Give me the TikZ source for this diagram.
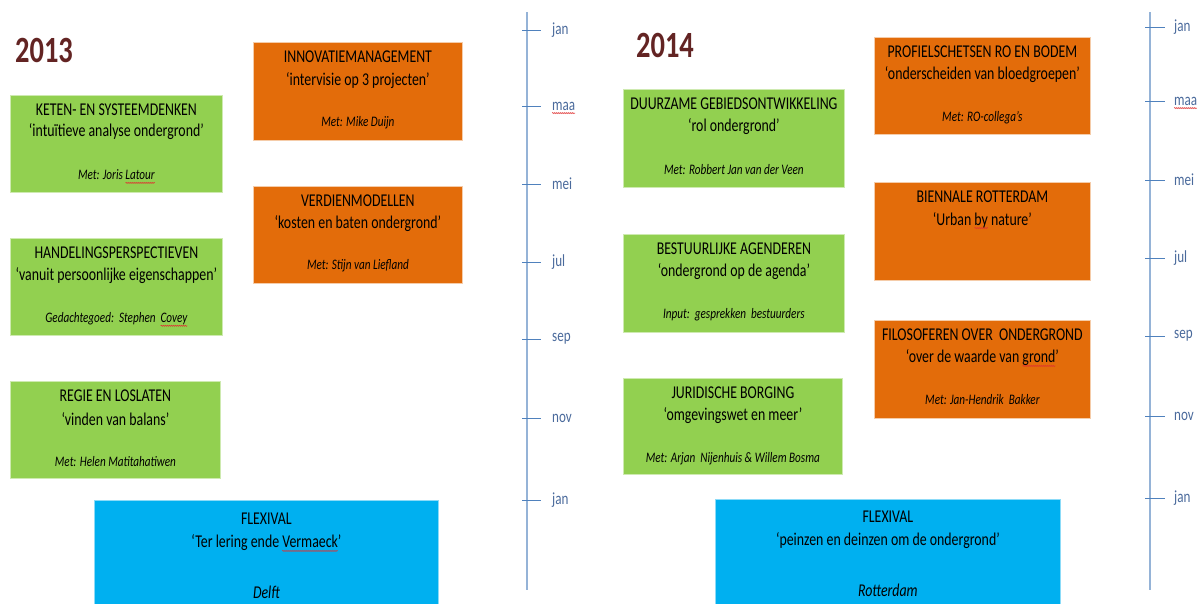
\documentclass[tikz,border=0pt]{standalone}
\usepackage{fontspec}
\setmainfont{Carlito}[FakeStretch=0.77]
\usetikzlibrary{calc,decorations.pathmorphing}
\definecolor{boxgreen}{HTML}{92D050}
\definecolor{boxorange}{HTML}{E36C0A}
\definecolor{boxblue}{HTML}{00B0F0}
\definecolor{yearred}{HTML}{632423}
\definecolor{axisline}{HTML}{95B3D7}
\definecolor{axistick}{HTML}{4F81BD}
\definecolor{monthtxt}{HTML}{4A6A9C}
\definecolor{squigred}{HTML}{E03030}
\newcommand\squig[1]{\tikz[baseline=(sq.base),x=1pt,y=1pt]{\node[inner sep=0pt,outer sep=0pt] (sq) {#1};\draw[overlay,draw=squigred,line width=0.5pt,decorate,decoration={snake,amplitude=0.6pt,segment length=2pt}] ([yshift=-3pt]sq.base west) -- ([yshift=-3pt]sq.base east);}}
\tikzset{
  evbox/.style={rectangle, inner sep=0pt, anchor=north west, line width=0.8pt},
  gbox/.style={evbox, fill=boxgreen, draw=boxgreen!45!white},
  obox/.style={evbox, fill=boxorange, draw=boxorange!35!white},
  bbox/.style={evbox, fill=boxblue, draw=boxblue!45!white},
  ttl/.style={inner sep=0pt, font=\fontsize{18}{22}\selectfont, text=black},
  sub/.style={inner sep=0pt, font=\fontsize{18}{22}\selectfont, text=black},
  who/.style={inner sep=0pt, font=\fontsize{14.5}{18}\selectfont\itshape, text=black},
  year/.style={inner sep=0pt, font=\fontsize{37}{40}\selectfont\bfseries, text=yearred},
  axis/.style={draw=axisline, line width=1.8pt},
  tick/.style={draw=axistick, line width=1pt},
  month/.style={inner sep=0pt, anchor=west, font=\fontsize{17}{20}\selectfont, text=monthtxt},
}
\begin{document}
\begin{tikzpicture}[x=1pt,y=-1pt]
\useasboundingbox (0,0) rectangle (1197,603);
\fill[white] (0,0) rectangle (1197,603);

% ---------- 2013 ----------
\node[year] (y2013) at (44,50) {2013};

\node[gbox, minimum width=212pt, minimum height=97pt] (keten) at (10,95) {};
\node[ttl] (keten-t) at ($(keten.north)+(0,15)$) {KETEN- EN SYSTEEMDENKEN};
\node[sub] (keten-s) at ($(keten.north)+(0,37)$) {‘intuïtieve analyse ondergrond’};
\node[who] (keten-w) at ($(keten.north)+(0,80)$) {Met: Joris \squig{Latour}};

\node[gbox, minimum width=212pt, minimum height=97pt] (handel) at (10,238) {};
\node[ttl] (handel-t) at ($(handel.north)+(0,15)$) {HANDELINGSPERSPECTIEVEN};
\node[sub] (handel-s) at ($(handel.north)+(0,38)$) {‘vanuit persoonlijke eigenschappen’};
\node[who] (handel-w) at ($(handel.north)+(0,81)$) {Gedachtegoed:\ \ Stephen\ \ \squig{Covey}};

\node[gbox, minimum width=210pt, minimum height=97pt] (regie) at (10,381) {};
\node[ttl] (regie-t) at ($(regie.north)+(0,15)$) {REGIE EN LOSLATEN};
\node[sub] (regie-s) at ($(regie.north)+(0,38)$) {‘vinden van balans’};
\node[who] (regie-w) at ($(regie.north)+(0,81)$) {Met: Helen Matitahatiwen};

\node[obox, minimum width=209pt, minimum height=98pt] (innov) at (253,42) {};
\node[ttl] (innov-t) at ($(innov.north)+(0,15)$) {INNOVATIEMANAGEMENT};
\node[sub] (innov-s) at ($(innov.north)+(0,39)$) {‘intervisie op 3 projecten’};
\node[who] (innov-w) at ($(innov.north)+(0,81)$) {Met: Mike Duijn};

\node[obox, minimum width=209pt, minimum height=97pt] (verdien) at (253,186) {};
\node[ttl] (verdien-t) at ($(verdien.north)+(0,15)$) {VERDIENMODELLEN};
\node[sub] (verdien-s) at ($(verdien.north)+(0,38)$) {‘kosten en baten ondergrond’};
\node[who] (verdien-w) at ($(verdien.north)+(0,80)$) {Met: Stijn van Liefland};

\node[bbox, minimum width=344pt, minimum height=110pt] (flex1) at (94,500) {};
\node[ttl] (flex1-t) at ($(flex1.north)+(0,19)$) {FLEXIVAL};
\node[sub] (flex1-s) at ($(flex1.north)+(0,43)$) {‘Ter lering ende \squig{Vermaeck}’};
\node[sub, font=\fontsize{18}{22}\selectfont\itshape] (flex1-w) at ($(flex1.north)+(0,92)$) {Delft};

% timeline 2013
\coordinate (ax1top) at (527,12);
\coordinate (ax1bot) at (527,590);
\draw[axis] (ax1top) -- (ax1bot);
\foreach \m/\yy/\nm in {jan/30/a, \squig{maa}/106/b, mei/184/c, jul/262/d, sep/339/e, nov/418/f, jan/500/g}{
  \coordinate (t1\nm l) at (522,\yy);
  \coordinate (t1\nm r) at (541,\yy);
  \draw[tick] (t1\nm l) -- (t1\nm r);
  \node[month] (m1\nm) at (552,\yy) {\m};
}

% ---------- 2014 ----------
\node[year] (y2014) at (665,45) {2014};

\node[gbox, minimum width=221pt, minimum height=98pt] (duur) at (623,89) {};
\node[ttl] (duur-t) at ($(duur.north)+(0,15)$) {DUURZAME GEBIEDSONTWIKKELING};
\node[sub] (duur-s) at ($(duur.north)+(0,38)$) {‘rol ondergrond’};
\node[who] (duur-w) at ($(duur.north)+(0,81)$) {Met: Robbert Jan van der Veen};

\node[gbox, minimum width=221pt, minimum height=98pt] (bestuur) at (623,234) {};
\node[ttl] (bestuur-t) at ($(bestuur.north)+(0,15)$) {BESTUURLIJKE AGENDEREN};
\node[sub] (bestuur-s) at ($(bestuur.north)+(0,38)$) {‘ondergrond op de agenda’};
\node[who] (bestuur-w) at ($(bestuur.north)+(0,81)$) {Input:\ \ gesprekken\ \ bestuurders};

\node[gbox, minimum width=219pt, minimum height=96pt] (jurid) at (623,378) {};
\node[ttl] (jurid-t) at ($(jurid.north)+(0,15)$) {JURIDISCHE BORGING};
\node[sub] (jurid-s) at ($(jurid.north)+(0,38)$) {‘omgevingswet en meer’};
\node[who] (jurid-w) at ($(jurid.north)+(0,81)$) {Met: Arjan\ \ Nijenhuis \& Willem Bosma};

\node[obox, minimum width=216pt, minimum height=97pt] (profiel) at (874,37) {};
\node[ttl] (profiel-t) at ($(profiel.north)+(0,15)$) {PROFIELSCHETSEN RO EN BODEM};
\node[sub] (profiel-s) at ($(profiel.north)+(0,38)$) {‘onderscheiden van bloedgroepen’};
\node[who] (profiel-w) at ($(profiel.north)+(0,81)$) {Met: RO-collega’s};

\node[obox, minimum width=216pt, minimum height=98pt] (bien) at (874,182) {};
\node[ttl] (bien-t) at ($(bien.north)+(0,15)$) {BIENNALE ROTTERDAM};
\node[sub] (bien-s) at ($(bien.north)+(0,38)$) {‘Urban \squig{by} nature’};

\node[obox, minimum width=216pt, minimum height=98pt] (filo) at (874,320) {};
\node[ttl] (filo-t) at ($(filo.north)+(0,15)$) {FILOSOFEREN OVER\ \ ONDERGROND};
\node[sub] (filo-s) at ($(filo.north)+(0,38)$) {‘over de waarde van \squig{grond}’};
\node[who] (filo-w) at ($(filo.north)+(0,80)$) {Met: Jan-Hendrik\ \ Bakker};

\node[bbox, minimum width=345pt, minimum height=110pt] (flex2) at (715,499) {};
\node[ttl] (flex2-t) at ($(flex2.north)+(0,18)$) {FLEXIVAL};
\node[sub] (flex2-s) at ($(flex2.north)+(0,42)$) {‘peinzen en deinzen om de ondergrond’};
\node[sub, font=\fontsize{18}{22}\selectfont\itshape] (flex2-w) at ($(flex2.north)+(0,91)$) {Rotterdam};

% timeline 2014
\coordinate (ax2top) at (1150,12);
\coordinate (ax2bot) at (1150,590);
\draw[axis] (ax2top) -- (ax2bot);
\foreach \m/\yy/\nm in {jan/27/a, \squig{maa}/101/b, mei/180/c, jul/258/d, sep/336/e, nov/416/f, jan/498/g}{
  \coordinate (t2\nm l) at (1145,\yy);
  \coordinate (t2\nm r) at (1165,\yy);
  \draw[tick] (t2\nm l) -- (t2\nm r);
  \node[month] (m2\nm) at (1174,\yy) {\m};
}
\end{tikzpicture}
\end{document}
